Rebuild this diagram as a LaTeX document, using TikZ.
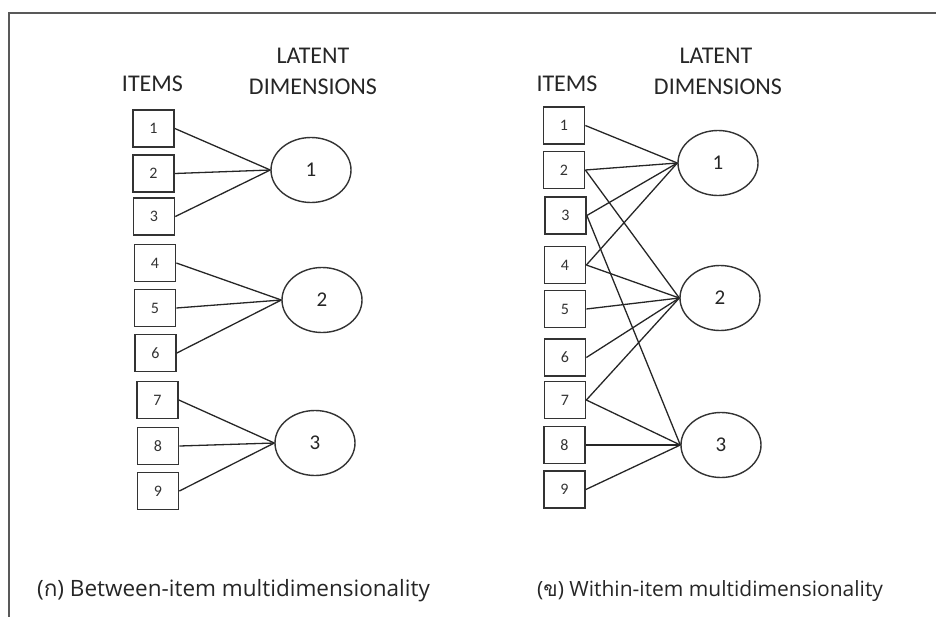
\documentclass[tikz,border=0pt]{standalone}
\usepackage{fontspec}
\setmainfont{Carlito}
\newfontfamily\thaifont[Script=Thai]{Loma}
\newfontfamily\capfont{Open Sans}
\usetikzlibrary{shapes.geometric}
\begin{document}
\begin{tikzpicture}[x=1pt,y=-1pt,
  itembox/.style={draw=black!80, line width=1.7pt, minimum width=41pt, minimum height=37pt, inner sep=0pt, font=\fontsize{16}{16}\selectfont, text=black!80},
  dim/.style={ellipse, draw=black!80, line width=1.4pt, minimum width=80pt, minimum height=65pt, inner sep=0pt, font=\fontsize{21}{21}\selectfont, text=black!85},
  link/.style={draw=black!85, line width=1.3pt},
  head/.style={font=\fontsize{24}{24}\selectfont, text=black!85, anchor=base, inner sep=0pt},
  caption/.style={font=\capfont\fontsize{22.5}{22.5}\selectfont, text=black!85, anchor=base west, inner sep=0pt}]
\useasboundingbox (0,0) rectangle (936,616);
\draw[black!65, line width=2.5pt] (9,13) rectangle (960,640);

% ---------- left diagram ----------
\node[head] (litems) at (152.5,91) {ITEMS};
\node[head] (llat) at (313,63) {LATENT};
\node[head] (ldim) at (313,94) {DIMENSIONS};

\node[itembox] (a1) at (153.5,128.5) {1};
\node[itembox] (a2) at (153.5,173.5) {2};
\node[itembox] (a3) at (154,216.5) {3};
\node[itembox] (a4) at (155,263) {4};
\node[itembox] (a5) at (155,308) {5};
\node[itembox] (a6) at (155.5,353) {6};
\node[itembox] (a7) at (157.5,400) {7};
\node[itembox] (a8) at (158,446) {8};
\node[itembox] (a9) at (158,491) {9};

\node[dim] (d1) at (311,170) {1};
\node[dim] (d2) at (322,300) {2};
\node[dim] (d3) at (315,443) {3};

\foreach \i in {1,2,3} \draw[link] (a\i.east) -- (d1.west);
\foreach \i in {4,5,6} \draw[link] (a\i.east) -- (d2.west);
\foreach \i in {7,8,9} \draw[link] (a\i.east) -- (d3.west);

% ---------- right diagram ----------
\node[head] (ritems) at (567,91) {ITEMS};
\node[head] (rlat) at (716,63) {LATENT};
\node[head] (rdim) at (718,94) {DIMENSIONS};

\node[itembox] (b1) at (564,125.5) {1};
\node[itembox] (b2) at (564,170) {2};
\node[itembox] (b3) at (565.5,215.5) {3};
\node[itembox] (b4) at (565,265) {4};
\node[itembox] (b5) at (565,309) {5};
\node[itembox] (b6) at (565,357.5) {6};
\node[itembox] (b7) at (565,400) {7};
\node[itembox] (b8) at (564.5,445) {8};
\node[itembox] (b9) at (564.5,489.5) {9};

\node[dim] (e1) at (718,163) {1};
\node[dim] (e2) at (720,298) {2};
\node[dim] (e3) at (721,445) {3};

\foreach \i in {1,2,3,4} \draw[link] (b\i.east) -- (e1.west);
\foreach \i in {2,4,5,6,7} \draw[link] (b\i.east) -- (e2.west);
\foreach \i in {3,7,8,9} \draw[link] (b\i.east) -- (e3.west);

% ---------- captions ----------
\node[caption] (capa) at (37,596) {({\thaifont ก}) Between-item multidimensionality};
\node[caption, font=\capfont\fontsize{21}{21}\selectfont] (capb) at (537,596) {({\thaifont ข}) Within-item multidimensionality};
\end{tikzpicture}
\end{document}
